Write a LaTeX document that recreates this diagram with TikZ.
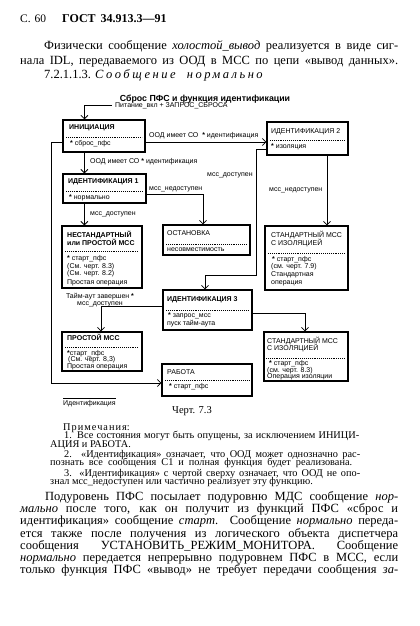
\documentclass[tikz,border=0pt]{standalone}
\usepackage{fontspec}
\setmainfont{Liberation Serif}
\newfontfamily\dsans{Liberation Sans}
\usetikzlibrary{arrows.meta}
\newcommand\jl[2]{\hbox to #1pt{#2}}
\begin{document}
\begin{tikzpicture}[x=1pt,y=-1pt,
  box/.style={draw,line width=1.2pt,inner sep=0pt},
  dt/.style={anchor=base west,inner sep=0pt,font=\dsans\fontsize{7}{8}\selectfont},
  dtb/.style={dt,font=\dsans\bfseries\fontsize{7}{8}\selectfont},
  sepl/.style={line width=0.8pt,dash pattern=on 0.8pt off 1.1pt},
  arr/.style={line width=0.8pt,-{Straight Barb[length=3.5pt,width=7pt]}},
  body/.style={anchor=base west,inner sep=0pt,font=\fontsize{12.5}{14}\selectfont},
  note/.style={anchor=base west,inner sep=0pt,font=\fontsize{10.3}{11}\selectfont}]
\useasboundingbox (0,0) rectangle (420,626);
% header
\node[anchor=base west,inner sep=0pt,font=\fontsize{11.5}{12}\selectfont] (h1) at (20,23) {С.\hspace{4pt}60};
\node[anchor=base west,inner sep=0pt,font=\bfseries\fontsize{12}{13}\selectfont] (h2) at (62,23) {ГОСТ\hspace{2pt} 34.913.3—91};
% first paragraph
\node[body] (p1) at (44,49.5) {\jl{354}{Физически сообщение \textit{холостой\_вывод} реализуется в виде сиг-}};
\node[body] (p2) at (20,64) {\jl{378}{нала IDL, передаваемого из ООД в МСС по цепи «вывод данных».}};
\node[body] (p3) at (44,78.5) {7.2.1.1.3. {\itshape\addfontfeature{LetterSpace=20}Сообщение\ \ нормально}};
% title
\node[anchor=base,inner sep=0pt,font=\dsans\bfseries\fontsize{8.8}{10}\selectfont] (ttl) at (205,101) {Сброс ПФС и функция идентификации};
% boxes
\node[box,minimum width=82pt,minimum height=32pt] (ini) at (104,136) {};
\node[box,minimum width=83pt,minimum height=29pt] (id1) at (104.5,188.5) {};
\node[box,minimum width=81pt,minimum height=33pt] (id2) at (307.5,138.5) {};
\node[box,minimum width=80pt,minimum height=62pt] (nest) at (102,257) {};
\node[box,minimum width=87pt,minimum height=30pt] (ost) at (206.5,240) {};
\node[box,minimum width=83pt,minimum height=64pt] (std1) at (306.5,258) {};
\node[box,minimum width=89pt,minimum height=40pt] (id3) at (207.5,310) {};
\node[box,minimum width=80pt,minimum height=39pt] (prost) at (102,351.5) {};
\node[box,minimum width=84pt,minimum height=49pt] (std2) at (306,356.5) {};
\node[box,minimum width=90pt,minimum height=32pt] (rab) at (207,380) {};
% box texts
\node[dtb] (ini1) at (69,129.5) {ИНИЦИАЦИЯ};
\draw[sepl] (66,137) -- (142,137);
\node[dt] (ini2) at (70,145.5) {\textbf{*} сброс\_пфс};
\node[dtb] (id11) at (68,183.5) {ИДЕНТИФИКАЦИЯ 1};
\draw[sepl] (66,191) -- (143,191);
\node[dt] (id12) at (69,199.5) {\textbf{*} нормально};
\node[dt] (id21) at (271,133.5) {ИДЕНТИФИКАЦИЯ 2};
\draw[sepl] (270,140) -- (345,140);
\node[dt] (id22) at (271,148.5) {\textbf{*} изоляция};
\node[dtb] (ne1) at (67,237) {НЕСТАНДАРТНЫЙ};
\node[dtb] (ne2) at (67,245) {или ПРОСТОЙ МСС};
\draw[sepl] (65,251) -- (139,251);
\node[dt] (ne3) at (67,260) {\textbf{*} старт\_пфс};
\node[dt] (ne4) at (67,268) {(См. черт. 8.3)};
\node[dt] (ne5) at (67,275.5) {(См. черт. 8.2)};
\node[dt] (ne6) at (67,284) {Простая операция};
\node[dt] (os1) at (167,235.5) {ОСТАНОВКА};
\draw[sepl] (166,244) -- (247,244);
\node[dt] (os2) at (167,251.5) {несовместимость};
\node[dt] (s11) at (271,237) {СТАНДАРТНЫЙ МСС};
\node[dt] (s12) at (271,245) {С ИЗОЛЯЦИЕЙ};
\draw[sepl] (268,253) -- (345,253);
\node[dt] (s13) at (272,261) {\textbf{*} старт\_пфс};
\node[dt] (s14) at (271,268.5) {(см. черт. 7.9)};
\node[dt] (s15) at (271,276) {Стандартная};
\node[dt] (s16) at (271,284) {операция};
\node[dtb] (id31) at (167,301.5) {ИДЕНТИФИКАЦИЯ 3};
\draw[sepl] (166,310) -- (249,310);
\node[dt] (id32) at (168,317.5) {\textbf{*} запрос\_мсс};
\node[dt] (id33) at (167,325) {пуск тайм-аута};
\node[dtb] (pr1) at (67,340.5) {ПРОСТОЙ МСС};
\draw[sepl] (65,347) -- (139,347);
\node[dt] (pr2) at (67,355) {\textbf{*}старт\_пфс};
\node[dt] (pr3) at (68,361.5) {(См. черт. 8,3)};
\node[dt] (pr4) at (67,368.5) {Простая операция};
\node[dt] (s21) at (267,343) {СТАНДАРТНЫЙ МСС};
\node[dt] (s22) at (267,350.5) {С ИЗОЛЯЦИЕЙ};
\draw[sepl] (266,358) -- (345,358);
\node[dt] (s23) at (269,365) {\textbf{*} старт\_пфс};
\node[dt] (s24) at (267,372) {(см. черт. 8.3)};
\node[dt] (s25) at (267,378.5) {Операция изоляции};
\node[dt] (ra1) at (167,374) {РАБОТА};
\draw[sepl] (165,380.5) -- (249,380.5);
\node[dt] (ra2) at (169,388) {\textbf{*} старт\_пфс};
% connectors
\coordinate (pw) at (112,105);
\draw[arr] (pw) -| ([xshift=22pt]ini.north west);
\node[dt] (lpw) at (115,107.5) {Питание\_вкл + ЗАПРОС\_СБРОСА};
\draw[arr] ([xshift=22pt]ini.south west) -- ([xshift=22pt]ini.south west |- id1.north);
\node[dt] (l1) at (90,163.5) {ООД имеет СО \textbf{*} идентификация};
\draw[arr] ([yshift=-6pt]ini.east) -- ([yshift=-6pt]ini.east -| id2.west);
\node[dt] (l2) at (149,137.5) {ООД имеет СО\ \ \textbf{*} идентификация};
\draw[arr] ([yshift=-6pt]ini.west) -- ++(-11,0) |- ([yshift=-3pt]rab.west);
\node[dt] (l3) at (63,405.5) {Идентификация};
\draw[line width=0.6pt] ([yshift=2pt]l3.north west) -- ([yshift=2pt]l3.north east);
\draw[arr] ([yshift=-5.5pt]id1.east) -| ([xshift=-3.5pt]ost.north);
\node[dt] (l4) at (149,190.5) {мсс\_недоступен};
\draw[arr] ([xshift=22pt]id1.south west) -- ([xshift=22pt]id1.south west |- nest.north);
\node[dt] (l5) at (90,215.5) {мсс\_доступен};
\draw[arr] ([yshift=-10.5pt]id2.west) -- ++(-10,0) -- ++(0,126) -| ([xshift=-2.5pt]id3.north);
\node[dt] (l6) at (207,176) {мсс\_доступен};
\draw[arr] ([xshift=19.5pt]id2.south) -- ([xshift=19.5pt]id2.south |- std1.north);
\node[dt] (l7) at (269,191.5) {мсс\_недоступен};
\draw[arr] ([yshift=4pt]id3.west) -| ([xshift=-1pt]prost.north);
\node[dt,anchor=base] (l8) at (100,298) {Тайм-аут завершен \textbf{*}};
\node[dt,anchor=base] (l9) at (100,305.5) {мсс\_доступен};
\draw[arr] ([yshift=-3pt]id3.east) -| ([xshift=-1pt]std2.north);
% caption
\node[anchor=base west,inner sep=0pt,font=\fontsize{10.5}{12}\selectfont] (cap) at (172,413) {Черт. 7.3};
% notes
\node[note] (notes) at (50,430) {\vtop{\baselineskip=8.6pt\lineskiplimit=-20pt\lineskip=0pt
\hbox{\hskip13pt{\addfontfeature{LetterSpace=10}Примечания}:}
\hbox{\hskip14pt\jl{295}{1. Все состояния могут быть опущены, за исключением ИНИЦИ-}}
\hbox{АЦИЯ и РАБОТА.}
\vskip1.4pt
\hbox{\hskip14pt\jl{296}{2. «Идентификация» означает, что ООД может однозначно рас-}}
\hbox{\jl{302}{познать все сообщения С1 и полная функция будет реализована.}}
\vskip1.9pt
\hbox{\hskip14pt\jl{296}{3. «Идентификация» с чертой сверху означает, что ООД не опо-}}
\hbox{знал мсс\_недоступен или частично реализует эту функцию.}}};
% last paragraph
\node[body] (b1) at (45,500.5) {\jl{353}{Подуровень ПФС посылает подуровню МДС сообщение \textit{нор-}}};
\node[body] (b2) at (20,512.7) {\jl{378}{\textit{мально} после того, как он получит из функций ПФС «сброс и}};
\node[body] (b3) at (20,524.8) {\jl{378}{идентификация» сообщение \textit{старт}. Сообщение \textit{нормально} переда-}};
\node[body] (b4) at (20,537) {\jl{378}{ется также после получения из логического объекта диспетчера}};
\node[body] (b5) at (20,549.2) {\jl{378}{сообщения УСТАНОВИТЬ\_РЕЖИМ\_МОНИТОРА. Сообщение}};
\node[body] (b6) at (20,561.3) {\jl{378}{\textit{нормально} передается непрерывно подуровнем ПФС в МСС, если}};
\node[body] (b7) at (20,573.5) {\jl{378}{только функция ПФС «вывод» не требует передачи сообщения \textit{за-}}};
\end{tikzpicture}
\end{document}
